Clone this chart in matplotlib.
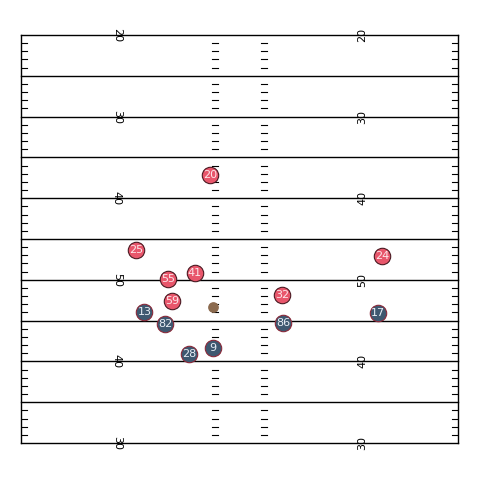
"""
Football field snapshot with player positions
"""
import matplotlib.pyplot as plt
import numpy as np

# field runs from the 20 (top) to the other 30 (bottom)
yard_lines = [20, 25, 30, 35, 40, 45, 50, 55, 60, 65, 70]
number_lines = [20, 30, 40, 50, 60, 70]
number_labels = ['20', '30', '40', '50', '40', '30']

# players: x = across the field (yards), y = along the field
home_nums = ['20', '25', '55', '41', '59', '32', '24']
home_x = [23.05, 14.0, 17.95, 21.2, 18.4, 31.85, 44.0]
home_y = [37.15, 46.35, 49.9, 49.15, 52.6, 51.85, 47.05]

away_nums = ['13', '82', '28', '9', '86', '17']
away_x = [15.05, 17.55, 20.5, 23.45, 32.0, 43.5]
away_y = [53.9, 55.4, 59.1, 58.4, 55.35, 54.1]

ball_x = [23.45]
ball_y = [53.35]

FIELD_W = 53.3


def draw_field(ax):
    for y in yard_lines:
        ax.plot([0, FIELD_W], [y, y], color='black', lw=1.0, zorder=1,
                clip_on=False)
    ax.plot([0, 0], [20, 70], color='black', lw=1.0, zorder=1, clip_on=False)
    ax.plot([FIELD_W, FIELD_W], [20, 70], color='black', lw=1.0, zorder=1,
            clip_on=False)

    # hash marks every yard
    for y in range(21, 70):
        if y % 5 == 0:
            continue
        for x0, x1 in [(0.0, 0.7), (23.35, 24.05), (29.25, 29.95),
                       (FIELD_W - 0.7, FIELD_W)]:
            ax.plot([x0, x1], [y, y], color='black', lw=0.8, zorder=1)

    for y, lab in zip(number_lines, number_labels):
        ax.text(11.7, y, lab, rotation=270, ha='center', va='center',
                fontsize=8, color='black', zorder=2)
        ax.text(FIELD_W - 11.7, y, lab, rotation=90, ha='center',
                va='center', fontsize=8, color='black', zorder=2)


def create_figure():
    fig = plt.figure(figsize=(4.8, 4.8), dpi=100)
    ax = fig.add_axes([21 / 480, 1 - 443 / 480, 437 / 480, 408 / 480])
    draw_field(ax)

    ax.scatter(home_x, home_y, s=140, color='#e8566b', edgecolor='#4a1a22',
               linewidth=0.8, zorder=3)
    for x, y, n in zip(home_x, home_y, home_nums):
        ax.text(x, y, n, ha='center', va='center', fontsize=8,
                color='#fde6ea', zorder=4)

    ax.scatter(away_x, away_y, s=140, color='#3e5870', edgecolor='#8a2a3a',
               linewidth=0.8, zorder=3)
    for x, y, n in zip(away_x, away_y, away_nums):
        ax.text(x, y, n, ha='center', va='center', fontsize=8,
                color='#e8eef5', zorder=4)

    ax.scatter(ball_x, ball_y, s=45, color='#8b6a4e', zorder=3)

    ax.set_xlim(0, FIELD_W)
    ax.set_ylim(70, 20)
    ax.axis('off')
    fig.savefig('out.png', dpi=100)
    plt.close(fig)


if __name__ == "__main__":
    create_figure()
